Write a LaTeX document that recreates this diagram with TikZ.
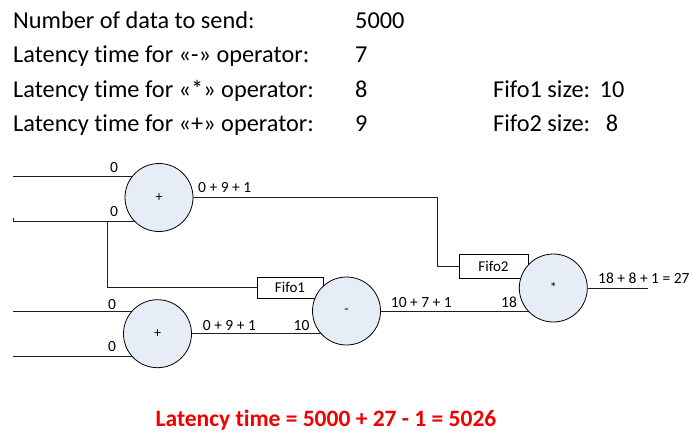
\documentclass[tikz,border=0pt]{standalone}
\usepackage{fontspec}
\setmainfont{Carlito}[Ligatures=NoCommon]
\usetikzlibrary{backgrounds}
\definecolor{opfill}{RGB}{231,237,247}
\definecolor{wire}{RGB}{30,30,30}
\definecolor{alert}{RGB}{240,0,0}
\begin{document}
\begin{tikzpicture}[x=1pt,y=-1pt,
  op/.style={circle,draw=black,line width=0.8pt,fill=opfill,minimum size=68pt,
    inner sep=0pt,font=\fontsize{14}{14}\selectfont},
  fifobox/.style={draw=black,line width=0.8pt,fill=white,inner sep=0pt,
    font=\fontsize{15}{15}\selectfont},
  wirestyle/.style={draw=wire,line width=1pt},
  lbl/.style={anchor=base west,inner sep=0pt,font=\fontsize{15.5}{15.5}\selectfont},
  info/.style={anchor=base west,inner sep=0pt,font=\fontsize{24.3}{24.3}\selectfont}]
\useasboundingbox (0,0) rectangle (692,432);

% parameters of the example
\node[info] (t1) at (13,28.5) {Number of data to send:};
\node[info] (t2) at (13,62) {Latency time for «-» operator:};
\node[info] (t3) at (13,97) {Latency time for «*» operator:};
\node[info] (t4) at (13,131.5) {Latency time for «+» operator:};
\node[info] (v1) at (355,28.5) {5000};
\node[info] (v2) at (355,62) {7};
\node[info] (v3) at (355,97) {8};
\node[info] (v4) at (355,131.5) {9};
\node[info] (f1) at (493,97) {Fifo1 size:};
\node[info] (f2) at (493,131.5) {Fifo2 size:};
\node[info,anchor=base] (s1) at (612,97) {10};
\node[info,anchor=base] (s2) at (612,131.5) {8};

% FIFOs (drawn first so the operators overlap them)
\node[fifobox,minimum width=66pt,minimum height=21pt] (fifo1) at (290,287.5) {Fifo1};
\node[fifobox,minimum width=69pt,minimum height=24pt] (fifo2) at (493.5,266.3) {Fifo2};

% operators
\node[op] (addA) at (159,197.5) {+};
\node[op] (addB) at (157.5,333.7) {+};
\node[op] (sub)  at (346.5,311) {-};
\node[op] (mul)  at (553.3,288) {*};

% wire end points
\coordinate (i1) at (13,176);
\coordinate (i2) at (13,221);
\coordinate (i3) at (13,311.7);
\coordinate (i4) at (13,356.7);
\coordinate (tap) at (107,221);
\coordinate (riser) at (437,0);
\coordinate (out) at (648,288);

\begin{scope}[on background layer]
  \draw[wirestyle] (i1) -- (i1 -| addA.center);
  \draw[wirestyle] ([yshift=3pt]i2) -- (i2) -- (i2 -| addA.center);
  \draw[wirestyle] (i3) -- (i3 -| addB.center);
  \draw[wirestyle] (i4) -- (i4 -| addB.center);
  \draw[wirestyle] (tap) |- (fifo1.west);
  \draw[wirestyle] (addA.east) -- (addA.east -| riser) |- (fifo2.west);
  \draw[wirestyle] (addB.east) -- (addB.east -| sub.center);
  \draw[wirestyle] (sub.east) -- (sub.east -| mul.center);
  \draw[wirestyle] (mul.east) -- (out);
\end{scope}

% time stamps on the wires
\node[lbl,anchor=base] (l1) at (114,172.5) {0};
\node[lbl,anchor=base] (l2) at (114,216.5) {0};
\node[lbl,anchor=base] (l3) at (112,309.5) {0};
\node[lbl,anchor=base] (l4) at (112,351.7) {0};
\node[lbl] (l5) at (198,192.7) {0 + 9 + 1};
\node[lbl] (l6) at (202.7,330) {0 + 9 + 1};
\node[lbl] (l7) at (293.5,330.5) {10};
\node[lbl] (l8) at (390.7,307.3) {10 + 7 + 1};
\node[lbl] (l9) at (501,307) {18};
\node[lbl] (l10) at (598,283.3) {18 + 8 + 1 = 27};

% result
\node[anchor=base,inner sep=0pt,text=alert,font=\fontsize{23.5}{23.5}\selectfont\bfseries]
  (res) at (326,426.5) {Latency time = 5000 + 27 - 1 = 5026};
\end{tikzpicture}
\end{document}
